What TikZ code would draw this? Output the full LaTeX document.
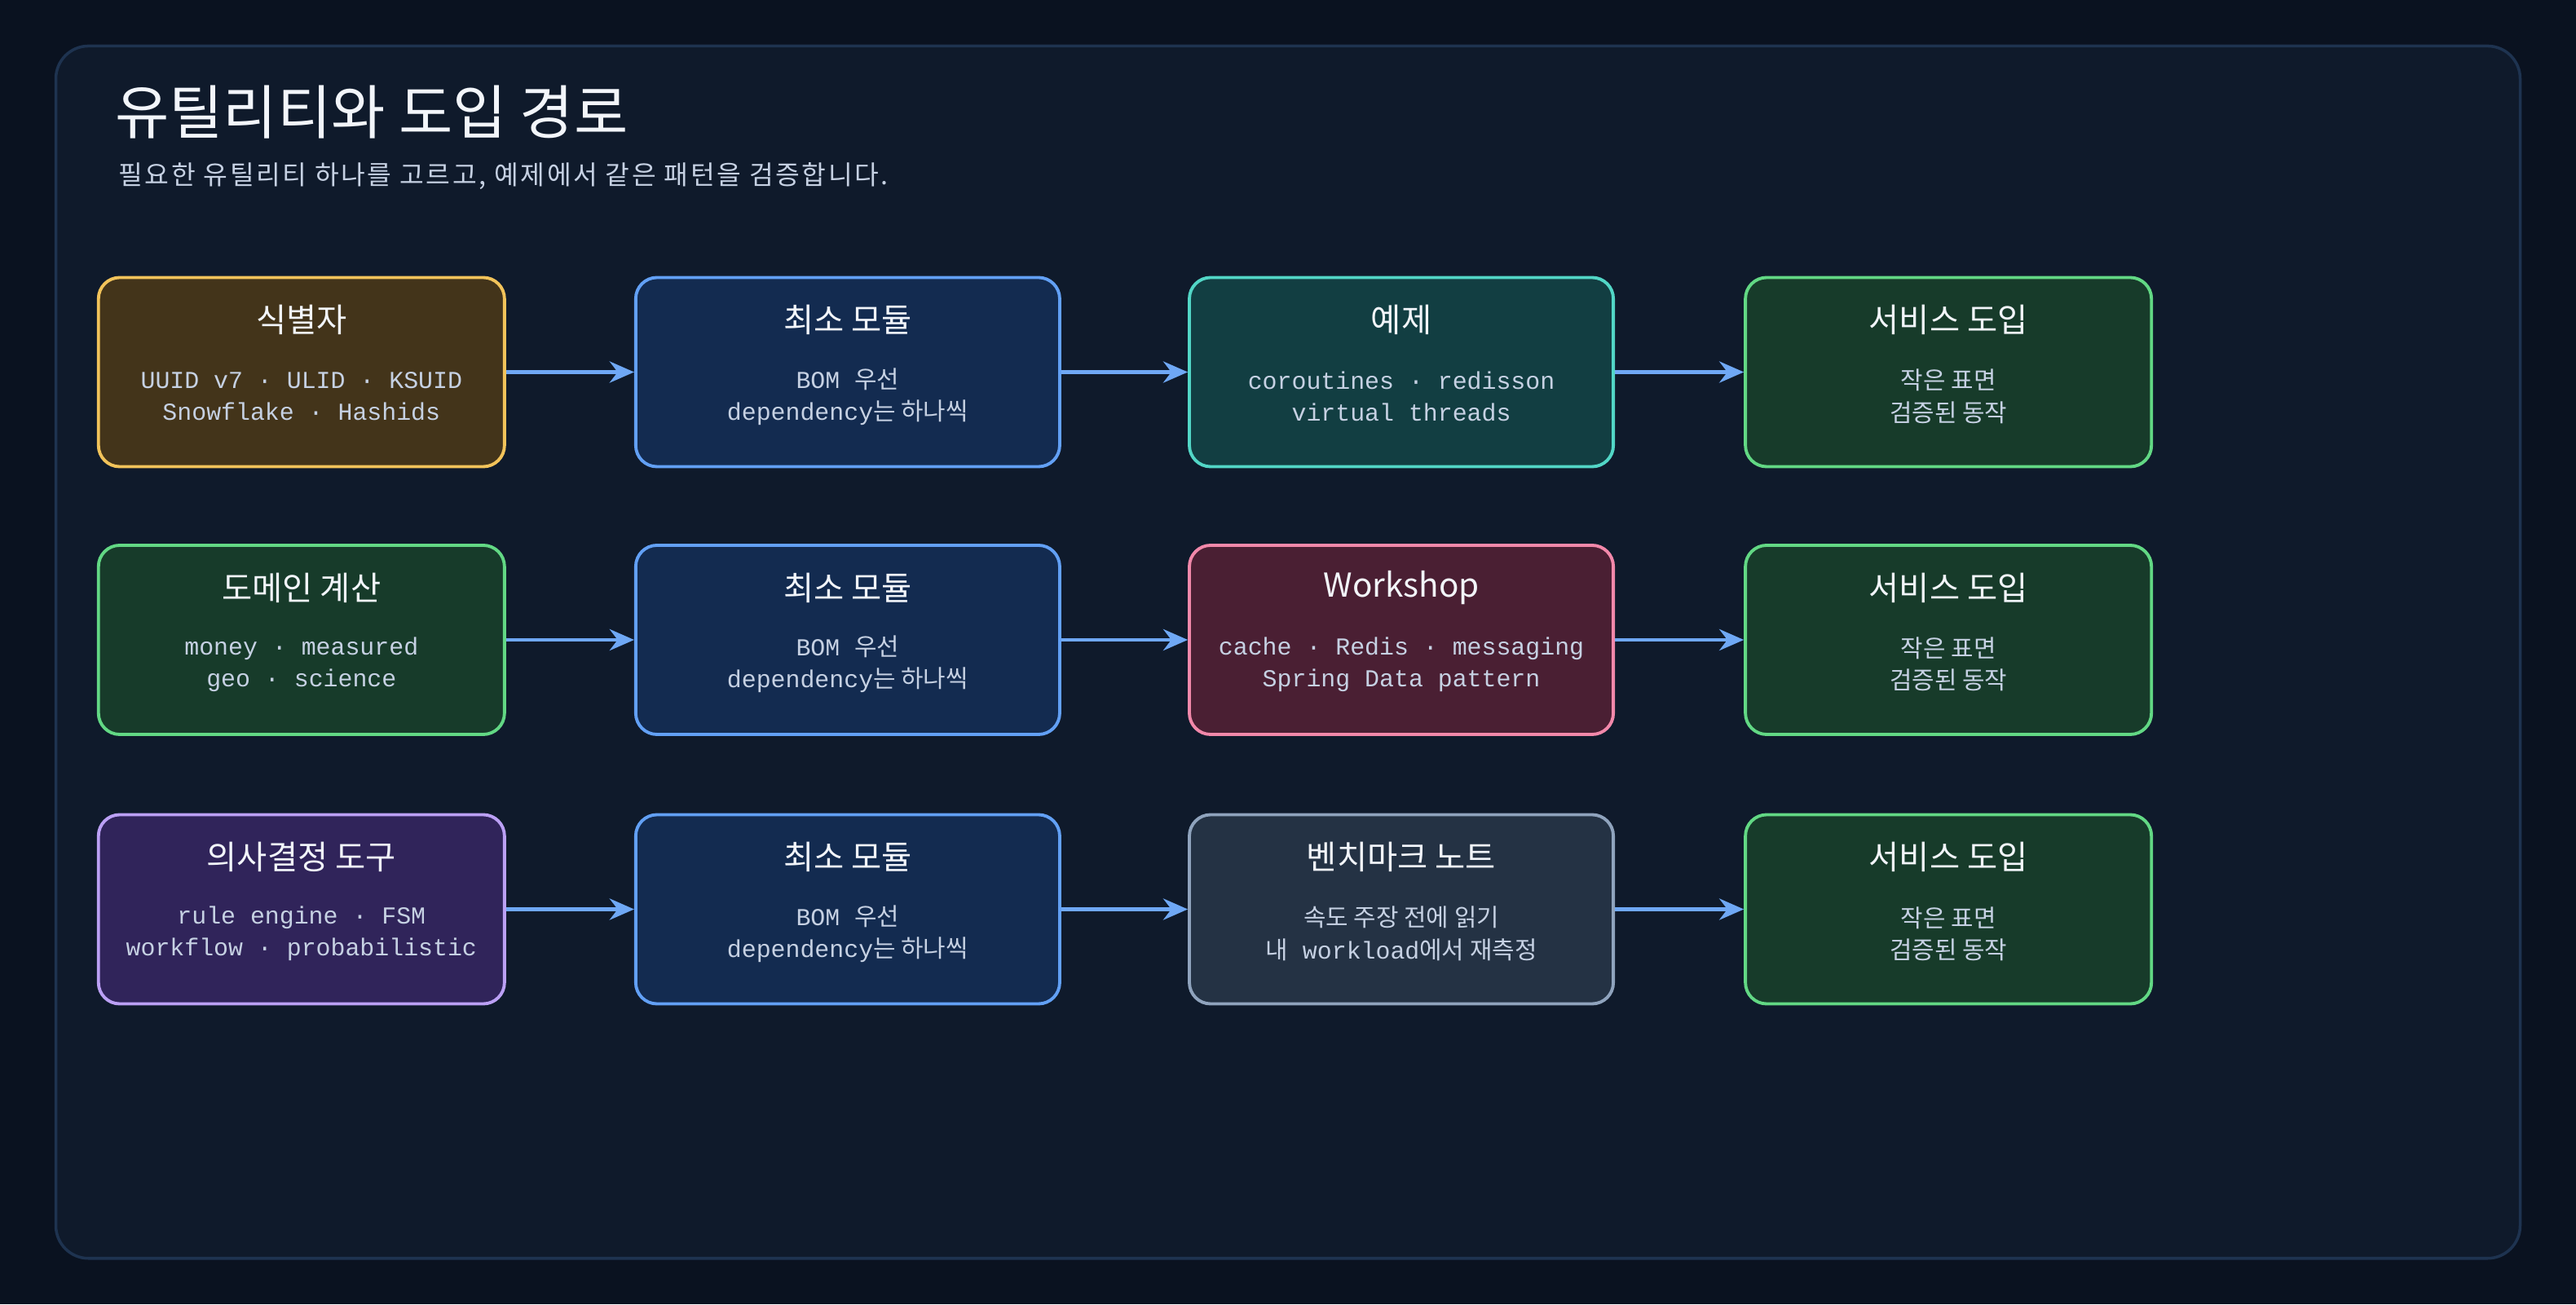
\documentclass[tikz,border=0pt]{standalone}
\usepackage{fontspec}
\setmainfont{Noto Sans CJK KR}
\setmonofont{Liberation Mono}
\newfontfamily\kr{Noto Sans CJK KR}
\newfontfamily\krwide[LetterSpace=8]{Noto Sans CJK KR}
\usetikzlibrary{arrows.meta}
\definecolor{pagebg}{HTML}{0A1220}
\definecolor{panelbg}{HTML}{0F1A2B}
\definecolor{panelln}{HTML}{1E3350}
\definecolor{txtmain}{HTML}{F2F5FA}
\definecolor{txtsub}{HTML}{C6D1E3}
\definecolor{arrowc}{HTML}{6FA8F5}
\definecolor{idfill}{HTML}{43341A}\definecolor{idline}{HTML}{F2C35A}
\definecolor{modfill}{HTML}{132B50}\definecolor{modline}{HTML}{62A0F5}
\definecolor{exfill}{HTML}{123E42}\definecolor{exline}{HTML}{52D6C6}
\definecolor{svcfill}{HTML}{173B2A}\definecolor{svcline}{HTML}{62D884}
\definecolor{wsfill}{HTML}{4A1F33}\definecolor{wsline}{HTML}{F288AA}
\definecolor{dtfill}{HTML}{30245A}\definecolor{dtline}{HTML}{BBA0F5}
\definecolor{bmfill}{HTML}{243244}\definecolor{bmline}{HTML}{8FA3BD}
\tikzset{
  card/.style n args={3}{draw=#2,fill=#1,line width=1.1pt,rounded corners=2.6mm,
    minimum width=#3,minimum height=23.2mm,inner sep=0pt},
  ttl/.style={text=txtmain,font=\kr\fontsize{11.5}{13}\selectfont},
  sub/.style={text=txtsub,font=\ttfamily\fontsize{8.5}{11.2}\selectfont,align=center},
  flow/.style={-{Stealth[length=3mm,width=2.6mm]},draw=arrowc,line width=1.4pt}
}
% one card: name, x, y, fill, line, width, title, two lines
\newcommand\card[9]{%
  \node[card={#4}{#5}{#6}] (#1) at (#2,#3) {};
  \node[ttl] (#1t) at ([yshift=-5.4mm]#1.north) {#7};
  \node[sub] (#1s) at ([yshift=-3mm]#1.center) {#8\\#9};
}
\begin{document}
\begin{tikzpicture}[x=0.2015mm,y=-0.2015mm]
\fill[pagebg] (0,0) rectangle (1568,794);
\draw[panelln,fill=panelbg,line width=1pt,rounded corners=4mm] (34,28) rectangle (1534,766);
\node[anchor=west,text=txtmain,font=\kr\fontsize{20.5}{24}\selectfont] (title) at (64,68) {유틸리티와 도입 경로};
\node[anchor=west,text=txtsub,font=\krwide\fontsize{9.2}{11}\selectfont] (subtitle) at (66,107) {필요한 유틸리티 하나를 고르고, 예제에서 같은 패턴을 검증합니다.};

% row 1
\card{id}{183.5}{226.5}{idfill}{idline}{49.8mm}{식별자}{UUID v7 · ULID · KSUID}{Snowflake · Hashids}
\card{mod1}{516}{226.5}{modfill}{modline}{52mm}{최소 모듈}{BOM {\kr 우선}}{dependency{\kr 는 하나씩}}
\card{ex}{853}{226.5}{exfill}{exline}{52mm}{예제}{coroutines · redisson}{virtual threads}
\card{svc1}{1186}{226.5}{svcfill}{svcline}{49.8mm}{서비스 도입}{{\kr 작은 표면}}{{\kr 검증된 동작}}
% row 2
\card{dom}{183.5}{389.5}{svcfill}{svcline}{49.8mm}{도메인 계산}{money · measured}{geo · science}
\card{mod2}{516}{389.5}{modfill}{modline}{52mm}{최소 모듈}{BOM {\kr 우선}}{dependency{\kr 는 하나씩}}
\card{ws}{853}{389.5}{wsfill}{wsline}{52mm}{Workshop}{cache · Redis · messaging}{Spring Data pattern}
\card{svc2}{1186}{389.5}{svcfill}{svcline}{49.8mm}{서비스 도입}{{\kr 작은 표면}}{{\kr 검증된 동작}}
% row 3
\card{dt}{183.5}{553.5}{dtfill}{dtline}{49.8mm}{의사결정 도구}{rule engine · FSM}{workflow · probabilistic}
\card{mod3}{516}{553.5}{modfill}{modline}{52mm}{최소 모듈}{BOM {\kr 우선}}{dependency{\kr 는 하나씩}}
\card{bm}{853}{553.5}{bmfill}{bmline}{52mm}{벤치마크 노트}{{\kr 속도 주장 전에 읽기}}{{\kr 내} workload{\kr 에서 재측정}}
\card{svc3}{1186}{553.5}{svcfill}{svcline}{49.8mm}{서비스 도입}{{\kr 작은 표면}}{{\kr 검증된 동작}}

\draw[flow] (id) -- (mod1);
\draw[flow] (mod1) -- (ex);
\draw[flow] (ex) -- (svc1);
\draw[flow] (dom) -- (mod2);
\draw[flow] (mod2) -- (ws);
\draw[flow] (ws) -- (svc2);
\draw[flow] (dt) -- (mod3);
\draw[flow] (mod3) -- (bm);
\draw[flow] (bm) -- (svc3);
\end{tikzpicture}
\end{document}
